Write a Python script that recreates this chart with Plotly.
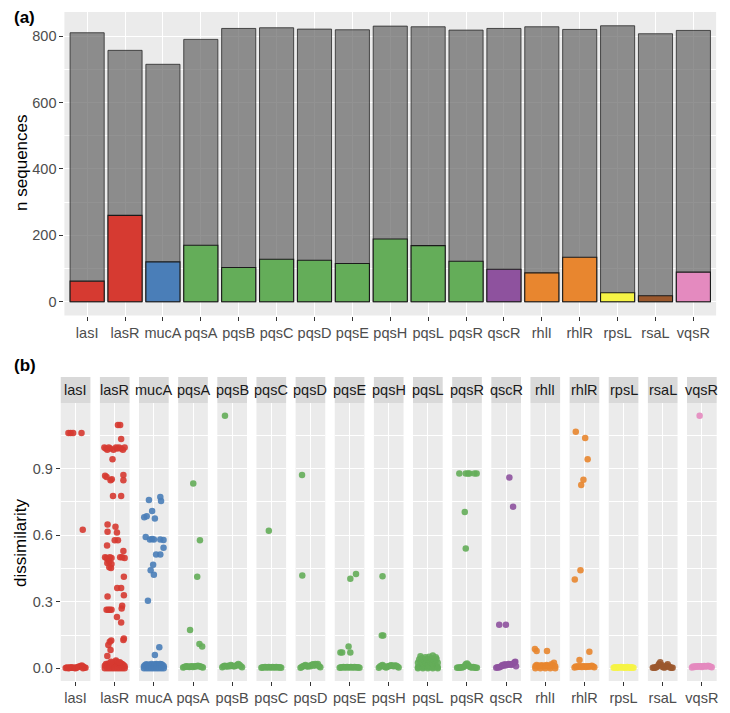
import plotly.graph_objects as go

# ---------------- data ----------------
genes = ["lasI", "lasR", "mucA", "pqsA", "pqsB", "pqsC", "pqsD", "pqsE", "pqsH",
         "pqsL", "pqsR", "qscR", "rhlI", "rhlR", "rpsL", "rsaL", "vqsR"]
total_seqs = [810, 757, 715, 790, 823, 825, 821, 819, 830, 828, 818, 823, 828, 820, 831, 807, 817]
variant_seqs = [62, 260, 120, 170, 103, 128, 125, 115, 189, 169, 122, 98, 87, 134, 27, 18, 89]
gene_colors = ["#D63A31", "#D63A31", "#4A7EB8", "#64AD59", "#64AD59", "#64AD59", "#64AD59",
               "#64AD59", "#64AD59", "#64AD59", "#64AD59", "#8E529E", "#E8862F", "#E8862F",
               "#F6F445", "#9B582D", "#E48ABF"]
y_ticks_a = [0, 200, 400, 600, 800]
y_ticks_b = [0.0, 0.3, 0.6, 0.9]
y_ticklabels_b = ["0.0", "0.3", "0.6", "0.9"]

# jitter positions of the dense near-zero band
band_jit = [-0.4, -0.35, -0.3, -0.25, -0.2, -0.15, -0.1, -0.05, 0.0,
            0.05, 0.1, 0.15, 0.2, 0.25, 0.3, 0.35, 0.4]

lasI_band = [0.002, 0.004, 0.003, 0.002, 0.005, 0.003, 0.004, 0.002, 0.003, 0.004, 0.006, 0.008, 0.01, 0.013, 0.008, 0.004, 0.003]
lasR_band = [0.012, 0.02, 0.015, 0.022, 0.012, 0.02, 0.025, 0.015, 0.02, 0.03, 0.02, 0.025, 0.015, 0.022, 0.02, 0.015, 0.01]
mucA_band = [0.01, 0.015, 0.018, 0.012, 0.016, 0.014, 0.02, 0.015, 0.012, 0.018, 0.02, 0.016, 0.014, 0.02, 0.018, 0.015, 0.01]
pqsA_band = [0.004, 0.006, 0.008, 0.01, 0.007, 0.006, 0.008, 0.01, 0.006, 0.008, 0.009, 0.01, 0.012, 0.01, 0.008, 0.006, 0.004]
pqsB_band = [0.005, 0.01, 0.012, 0.01, 0.008, 0.012, 0.01, 0.015, 0.012, 0.01, 0.01, 0.012, 0.015, 0.02, 0.015, 0.01, 0.005]
pqsC_band = [0.003, 0.005, 0.004, 0.006, 0.005, 0.004, 0.006, 0.005, 0.004, 0.006, 0.005, 0.004, 0.006, 0.005, 0.004, 0.005, 0.003]
pqsD_band = [0.003, 0.006, 0.01, 0.012, 0.015, 0.01, 0.008, 0.012, 0.01, 0.015, 0.018, 0.012, 0.02, 0.015, 0.02, 0.01, 0.005]
pqsE_band = [0.003, 0.005, 0.004, 0.006, 0.005, 0.004, 0.006, 0.005, 0.004, 0.006, 0.005, 0.004, 0.006, 0.005, 0.004, 0.005, 0.003]
pqsH_band = [0.003, 0.008, 0.012, 0.015, 0.01, 0.006, 0.004, 0.008, 0.01, 0.012, 0.014, 0.012, 0.01, 0.013, 0.012, 0.008, 0.004]
pqsL_band = [0.005, 0.01, 0.008, 0.012, 0.006, 0.01, 0.008, 0.012, 0.006, 0.01, 0.008, 0.012, 0.006, 0.01, 0.008, 0.01, 0.005]
pqsR_band = [0.003, 0.004, 0.003, 0.005, 0.004, 0.006, 0.01, 0.018, 0.022, 0.015, 0.008, 0.005, 0.004, 0.006, 0.004, 0.003, 0.003]
qscR_band = [0.003, 0.005, 0.004, 0.006, 0.01, 0.015, 0.012, 0.018, 0.014, 0.016, 0.02, 0.018, 0.015, 0.02, 0.022, 0.028, 0.01]
rhlI_band = [0.01, 0.015, 0.008, 0.012, 0.01, 0.014, 0.009, 0.012, 0.01, 0.015, 0.012, 0.01, 0.008, 0.018, 0.015, 0.025, 0.01]
rhlR_band = [0.004, 0.008, 0.006, 0.01, 0.007, 0.009, 0.006, 0.01, 0.008, 0.006, 0.009, 0.007, 0.01, 0.008, 0.012, 0.008, 0.005]
rpsL_band = [0.003, 0.005, 0.004, 0.003, 0.005, 0.004, 0.006, 0.004, 0.005, 0.003, 0.004, 0.006, 0.004, 0.003, 0.005, 0.004, 0.003]
rsaL_band = [0.003, 0.004, 0.003, 0.006, 0.01, 0.02, 0.028, 0.015, 0.006, 0.004, 0.005, 0.012, 0.018, 0.008, 0.004, 0.003, 0.003]
vqsR_band = [0.004, 0.008, 0.006, 0.01, 0.007, 0.009, 0.008, 0.01, 0.006, 0.009, 0.011, 0.008, 0.01, 0.012, 0.009, 0.007, 0.005]

# other points: (dissimilarity, jitter offset)
lasI_pts = [(0.0, -0.3), (0.0, 0.0), (0.0, 0.3), (1.06, -0.29), (1.06, -0.2), (1.06, -0.1), (1.06, 0.24), (0.624, 0.29)]
lasR_pts = [(0.0, -0.4), (0.0, -0.3), (0.0, -0.2), (0.0, -0.1), (0.0, 0.0), (0.0, 0.1), (0.0, 0.2), (0.0, 0.3), (0.0, 0.4),
            (1.096, 0.13), (1.096, 0.22), (1.033, 0.26),
            (0.995, -0.42), (0.99, -0.36), (0.985, -0.3), (0.995, -0.24), (0.99, -0.18), (0.985, -0.05),
            (0.995, 0.05), (0.99, 0.1), (0.995, 0.17), (0.99, 0.25), (0.985, 0.33), (0.995, 0.4),
            (0.942, -0.09), (0.867, -0.39), (0.862, -0.33), (0.871, 0.35),
            (0.847, -0.17), (0.852, -0.12), (0.847, 0.35), (0.776, -0.07), (0.776, 0.26),
            (0.648, -0.29), (0.638, 0.03), (0.615, -0.29), (0.612, 0.09), (0.577, 0.0), (0.577, 0.13),
            (0.553, -0.31), (0.528, 0.35),
            (0.5, -0.39), (0.497, -0.33), (0.49, -0.27), (0.5, -0.2), (0.497, -0.13), (0.5, 0.22), (0.5, 0.3), (0.497, 0.4),
            (0.475, -0.3), (0.48, -0.22), (0.47, -0.13), (0.455, -0.22), (0.452, -0.15),
            (0.412, 0.37), (0.362, 0.1), (0.362, 0.26), (0.329, 0.37), (0.324, -0.29),
            (0.282, 0.3), (0.27, 0.28), (0.264, -0.33), (0.264, -0.26), (0.264, -0.2), (0.264, -0.13),
            (0.231, 0.09), (0.207, 0.26), (0.128, 0.35), (0.135, 0.37), (0.12, -0.2), (0.125, -0.14),
            (0.105, -0.26), (0.083, -0.17), (0.056, -0.3), (0.035, 0.05), (0.03, -0.15), (0.028, 0.2)]
mucA_pts = [(0.0, -0.4), (0.0, -0.3), (0.0, -0.2), (0.0, -0.1), (0.0, 0.0), (0.0, 0.1), (0.0, 0.2), (0.0, 0.3), (0.0, 0.4),
            (0.758, -0.2), (0.772, 0.26), (0.754, 0.29), (0.709, -0.07), (0.681, -0.39), (0.685, -0.29),
            (0.675, 0.04), (0.592, -0.33), (0.58, -0.16), (0.582, -0.07), (0.58, 0.0), (0.58, 0.26),
            (0.578, 0.39), (0.543, 0.39), (0.513, 0.09), (0.513, 0.26), (0.467, -0.03), (0.442, -0.13),
            (0.422, 0.0), (0.305, -0.24), (0.095, 0.22), (0.06, 0.04)]
pqsA_pts = [(0.832, 0.01), (0.577, 0.28), (0.412, 0.17), (0.173, -0.12), (0.11, 0.26), (0.098, 0.37)]
pqsB_pts = [(1.138, -0.29)]
pqsC_pts = [(0.62, -0.1)]
pqsD_pts = [(0.871, -0.34), (0.418, -0.33)]
pqsE_pts = [(0.425, 0.26), (0.403, 0.03), (0.098, -0.04), (0.071, -0.37), (0.072, -0.3), (0.071, 0.03)]
pqsH_pts = [(0.415, -0.25), (0.148, -0.28), (0.148, -0.22)]
pqsL_pts = [(0.0, -0.4), (0.0, -0.2), (0.0, 0.0), (0.0, 0.2), (0.0, 0.4),
            (0.025, -0.4), (0.03, -0.3), (0.022, -0.2), (0.028, -0.1), (0.025, 0.0), (0.03, 0.1), (0.022, 0.2), (0.028, 0.3), (0.025, 0.4),
            (0.04, -0.35), (0.045, -0.25), (0.038, -0.15), (0.042, -0.05), (0.04, 0.05), (0.045, 0.15), (0.038, 0.25), (0.042, 0.35),
            (0.055, -0.3), (0.05, -0.1), (0.052, 0.05), (0.058, 0.2), (0.05, 0.32)]
pqsR_pts = [(0.877, -0.31), (0.877, -0.05), (0.877, 0.04), (0.877, 0.1), (0.877, 0.3), (0.877, 0.39),
            (0.704, -0.09), (0.54, -0.05)]
qscR_pts = [(0.859, 0.13), (0.728, 0.28), (0.196, -0.28), (0.196, -0.01), (0.03, 0.37)]
rhlI_pts = [(0.0, -0.4), (0.0, -0.2), (0.0, 0.0), (0.0, 0.2), (0.0, 0.4),
            (0.087, -0.42), (0.078, -0.35), (0.078, 0.07)]
rhlR_pts = [(1.066, -0.35), (1.037, 0.03), (0.942, 0.13), (0.849, -0.04), (0.826, -0.13),
            (0.442, -0.16), (0.4, -0.39), (0.075, 0.2), (0.038, -0.2)]
rpsL_pts = []
rsaL_pts = []
vqsR_pts = [(1.138, -0.09)]

bands = [lasI_band, lasR_band, mucA_band, pqsA_band, pqsB_band, pqsC_band, pqsD_band, pqsE_band,
         pqsH_band, pqsL_band, pqsR_band, qscR_band, rhlI_band, rhlR_band, rpsL_band, rsaL_band, vqsR_band]
extra_pts = [lasI_pts, lasR_pts, mucA_pts, pqsA_pts, pqsB_pts, pqsC_pts, pqsD_pts, pqsE_pts,
             pqsH_pts, pqsL_pts, pqsR_pts, qscR_pts, rhlI_pts, rhlR_pts, rpsL_pts, rsaL_pts, vqsR_pts]

# ---------------- layout geometry (page px; the page body has an 8px margin) ----------------
OFF = 8
W, H = 730 - OFF, 713 - OFF
FONT = "Liberation Sans, Arial, sans-serif"
BG = "#EBEBEB"


def px_x(v):
    return (v - OFF) / W


def px_y(v):
    return 1 - (v - OFF) / H


fig = go.Figure()

# ---------------- panel (a) ----------------
fig.add_trace(go.Bar(x=genes, y=total_seqs, width=0.9,
                     marker=dict(color="rgba(100,100,100,0.7)", line=dict(color="rgba(40,40,40,0.8)", width=1)),
                     xaxis="x", yaxis="y", showlegend=False, hoverinfo="skip"))
fig.add_trace(go.Bar(x=genes, y=variant_seqs, width=0.9,
                     marker=dict(color=gene_colors, line=dict(color="#1a1a1a", width=1.1)),
                     xaxis="x", yaxis="y", showlegend=False, hoverinfo="skip"))

layout = dict(
    width=W, height=H, margin=dict(l=0, r=0, t=0, b=0),
    paper_bgcolor="white", plot_bgcolor=BG, barmode="overlay",
    font=dict(family=FONT, size=14, color="#4D4D4D"),
    showlegend=False,
)
layout["xaxis"] = dict(domain=[px_x(61), px_x(720)], anchor="y", type="category",
                       range=[-0.6, 16.6], showgrid=True, gridcolor="white", gridwidth=1.1,
                       ticks="outside", ticklen=4, tickcolor="#333333", tickwidth=1,
                       tickfont=dict(size=14.5, color="#4D4D4D", family=FONT), zeroline=False,
                       showline=False, fixedrange=True)
layout["yaxis"] = dict(domain=[px_y(315.5), px_y(12)], anchor="x", range=[-41.5, 872.5],
                       tickvals=y_ticks_a, showgrid=True, gridcolor="white", gridwidth=1.1,
                       minor=dict(dtick=100, tick0=0, showgrid=True, gridcolor="white", gridwidth=0.5),
                       ticks="outside", ticklen=4, tickcolor="#333333", tickwidth=1,
                       tickfont=dict(size=14.5, color="#4D4D4D", family=FONT), zeroline=False,
                       showline=False, fixedrange=True)

# ---------------- panel (b) ----------------
start_px, pitch, fw = 57.3, 39.58, 30.0
top_px, bot_px = 403, 681
strip_top = 377
shapes = []
annotations = []
for i, g in enumerate(genes):
    k = i + 2
    xs = f"x{k}"
    ys = f"y{k}"
    x0 = start_px + i * pitch
    x1 = x0 + fw
    ypts = list(bands[i]) + [p[0] for p in extra_pts[i]]
    xpts = list(band_jit) + [p[1] for p in extra_pts[i]]
    fig.add_trace(go.Scatter(x=xpts, y=ypts, mode="markers", xaxis=xs, yaxis=ys,
                             marker=dict(color=gene_colors[i], size=6.5, opacity=0.9, line=dict(width=0)),
                             showlegend=False, hoverinfo="skip", cliponaxis=False))
    layout[f"xaxis{k}"] = dict(domain=[px_x(x0), px_x(x1)], anchor=ys, range=[-0.6, 0.6],
                               tickvals=[0], ticktext=[g], showgrid=True, gridcolor="white", gridwidth=1.1,
                               ticks="outside", ticklen=4, tickcolor="#333333", tickwidth=1,
                               tickfont=dict(size=14.5, color="#4D4D4D", family=FONT), zeroline=False,
                               showline=False, fixedrange=True)
    layout[f"yaxis{k}"] = dict(domain=[px_y(bot_px), px_y(top_px)], anchor=xs, range=[-0.0569, 1.195],
                               tickvals=y_ticks_b, ticktext=y_ticklabels_b,
                               showgrid=True, gridcolor="white", gridwidth=1.1,
                               minor=dict(dtick=0.15, tick0=0, showgrid=True, gridcolor="white", gridwidth=0.5),
                               showticklabels=(i == 0), ticks="outside" if i == 0 else "",
                               ticklen=4, tickcolor="#333333", tickwidth=1,
                               tickfont=dict(size=14.5, color="#4D4D4D", family=FONT), zeroline=False,
                               showline=False, fixedrange=True)
    shapes.append(dict(type="rect", xref="paper", yref="paper", x0=px_x(x0), x1=px_x(x1),
                       y0=px_y(top_px), y1=px_y(strip_top), fillcolor="#D9D9D9", line=dict(width=0),
                       layer="below"))
    annotations.append(dict(xref="paper", yref="paper", x=px_x((x0 + x1) / 2), y=px_y((strip_top + top_px) / 2),
                            text=g, showarrow=False, xanchor="center", yanchor="middle",
                            font=dict(size=14.5, color="#1A1A1A", family=FONT)))

# titles and panel labels
annotations.append(dict(xref="paper", yref="paper", x=px_x(17), y=px_y(163), text="n sequences",
                        textangle=-90, showarrow=False, xanchor="center", yanchor="middle",
                        font=dict(size=17, color="black", family=FONT)))
annotations.append(dict(xref="paper", yref="paper", x=px_x(16), y=px_y(543), text="dissimilarity",
                        textangle=-90, showarrow=False, xanchor="center", yanchor="middle",
                        font=dict(size=17, color="black", family=FONT)))
annotations.append(dict(xref="paper", yref="paper", x=px_x(8), y=px_y(17), text="<b>(a)</b>",
                        showarrow=False, xanchor="left", yanchor="middle",
                        font=dict(size=17, color="black", family=FONT)))
annotations.append(dict(xref="paper", yref="paper", x=px_x(8), y=px_y(366), text="<b>(b)</b>",
                        showarrow=False, xanchor="left", yanchor="middle",
                        font=dict(size=17, color="black", family=FONT)))

layout["shapes"] = shapes
layout["annotations"] = annotations
fig.update_layout(**layout)

fig.write_html("out.html")
